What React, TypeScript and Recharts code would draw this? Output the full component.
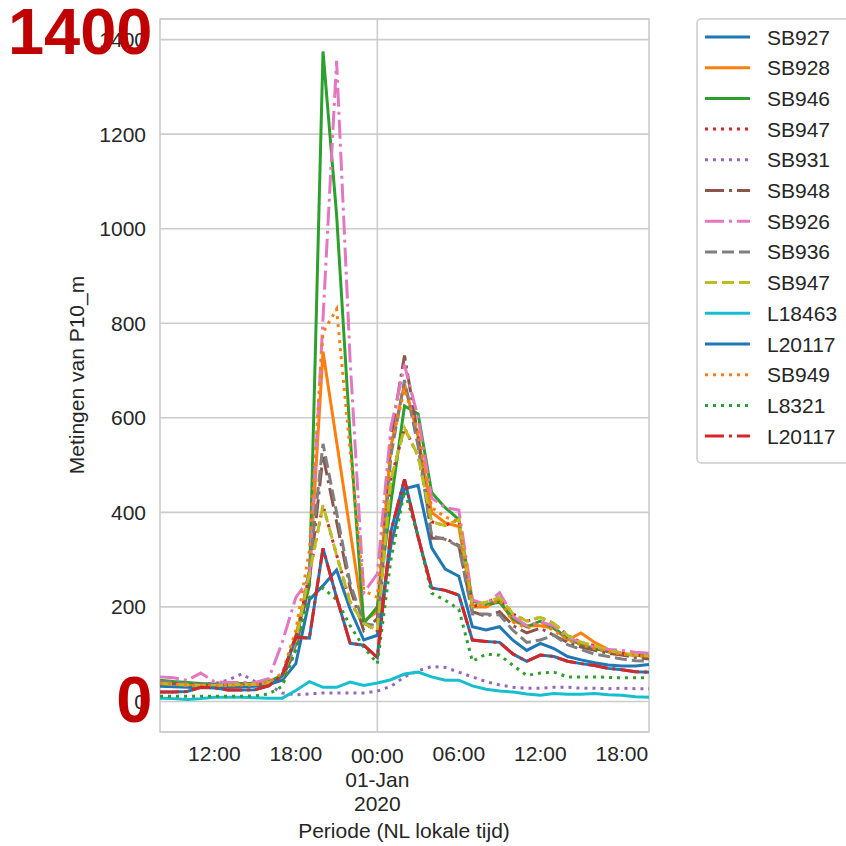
import React from 'react';
import {
  LineChart,
  Line,
  XAxis,
  YAxis,
  CartesianGrid,
  ReferenceLine,
  ReferenceArea,
} from 'recharts';

// Hourly index, 0 = 31-Dec-2019 08:00 … 36 = 01-Jan-2020 20:00
const hours = [
  0, 1, 2, 3, 4, 5, 6, 7, 8, 9, 10, 11, 12, 13, 14, 15, 16, 17, 18,
  19, 20, 21, 22, 23, 24, 25, 26, 27, 28, 29, 30, 31, 32, 33, 34, 35, 36,
];

const sb927 = [32, 31, 30, 29, 29, 30, 31, 32, 36, 45, 80, 215, 245, 278, 195, 130, 140, 330, 450, 457, 325, 280, 265, 158, 151, 158, 129, 108, 123, 112, 95, 88, 82, 77, 75, 75, 78];
const sb928 = [40, 38, 36, 35, 34, 35, 36, 36, 40, 55, 140, 260, 740, 550, 360, 170, 190, 540, 672, 560, 400, 378, 370, 200, 200, 215, 170, 160, 160, 155, 130, 145, 125, 110, 102, 98, 95];
const sb946 = [45, 42, 40, 38, 37, 37, 38, 38, 42, 55, 135, 245, 1375, 1030, 560, 165, 200, 420, 625, 608, 442, 410, 385, 212, 205, 210, 175, 158, 170, 155, 135, 120, 112, 105, 100, 98, 96];
const sb947 = [38, 36, 35, 34, 34, 35, 36, 36, 40, 52, 130, 270, 415, 310, 210, 165, 150, 470, 578, 520, 380, 372, 385, 200, 210, 220, 185, 170, 178, 165, 140, 125, 118, 108, 102, 98, 96];
const sb931 = [42, 40, 38, 38, 38, 45, 58, 42, 35, 18, 14, 16, 18, 18, 18, 18, 22, 32, 52, 65, 74, 72, 62, 52, 42, 35, 30, 28, 28, 30, 30, 28, 28, 27, 28, 27, 27];
const sb948 = [40, 38, 36, 34, 34, 34, 35, 35, 38, 50, 110, 255, 520, 380, 240, 150, 175, 560, 732, 560, 345, 345, 330, 190, 180, 190, 160, 145, 155, 140, 125, 115, 108, 102, 98, 93, 90];
const sb926 = [52, 50, 45, 60, 42, 40, 40, 40, 48, 125, 220, 260, 810, 1355, 720, 230, 270, 580, 712, 600, 430, 410, 405, 215, 205, 230, 180, 160, 168, 160, 135, 125, 115, 110, 108, 104, 102];
const sb936 = [42, 40, 38, 35, 35, 35, 36, 36, 40, 52, 120, 280, 545, 400, 250, 165, 160, 520, 680, 540, 350, 343, 328, 185, 185, 183, 150, 125, 130, 140, 120, 110, 100, 95, 90, 86, 85];
const l18463 = [7, 6, 4, 6, 9, 9, 9, 8, 7, 7, 23, 42, 30, 30, 41, 34, 39, 46, 58, 62, 52, 45, 45, 33, 26, 22, 20, 16, 13, 17, 15, 15, 17, 14, 13, 10, 9];
const l20117 = [20, 20, 21, 30, 29, 24, 24, 25, 33, 55, 136, 134, 324, 220, 123, 119, 93, 360, 470, 348, 240, 235, 225, 130, 127, 125, 100, 85, 98, 95, 85, 80, 76, 70, 67, 63, 62];
const sb949 = [38, 36, 34, 33, 33, 34, 35, 35, 40, 60, 150, 320, 780, 830, 530, 235, 220, 540, 660, 570, 410, 390, 380, 205, 200, 215, 168, 155, 165, 150, 130, 120, 112, 105, 100, 97, 95];
const l8321 = [11, 11, 11, 11, 11, 11, 11, 12, 16, 32, 110, 220, 240, 215, 160, 115, 80, 300, 445, 350, 229, 214, 195, 85, 100, 98, 76, 55, 60, 62, 52, 52, 52, 51, 50, 50, 50];

const xTicks = [4, 10, 16, 22, 28, 34];
const xTickLabels = ['12:00', '18:00', '00:00', '06:00', '12:00', '18:00'];
const midnightTick = 16;
const midnightSubLabels = ['01-Jan', '2020'];
const yTicks = [0, 200, 400, 600, 800, 1000, 1200, 1400];
const yDomain = [-64.6, 1443.6];

const DOTTED = '3 5';
const DASHED = '12 5';
const DASHDOT = '19 5 3 5';

type SeriesDef = { key: string; name: string; values: number[]; color: string; dash?: string };

const series: SeriesDef[] = [
  { key: 'sb927', name: 'SB927', values: sb927, color: '#1f77b4' },
  { key: 'sb928', name: 'SB928', values: sb928, color: '#ff7f0e' },
  { key: 'sb946', name: 'SB946', values: sb946, color: '#2ca02c' },
  { key: 'sb947a', name: 'SB947', values: sb947, color: '#d62728', dash: DOTTED },
  { key: 'sb931', name: 'SB931', values: sb931, color: '#9467bd', dash: DOTTED },
  { key: 'sb948', name: 'SB948', values: sb948, color: '#8c564b', dash: DASHDOT },
  { key: 'sb926', name: 'SB926', values: sb926, color: '#e377c2', dash: DASHDOT },
  { key: 'sb936', name: 'SB936', values: sb936, color: '#7f7f7f', dash: DASHED },
  { key: 'sb947b', name: 'SB947', values: sb947, color: '#bcbd22', dash: DASHED },
  { key: 'l18463', name: 'L18463', values: l18463, color: '#17becf' },
  { key: 'l20117a', name: 'L20117', values: l20117, color: '#1f77b4' },
  { key: 'sb949', name: 'SB949', values: sb949, color: '#ff7f0e', dash: DOTTED },
  { key: 'l8321', name: 'L8321', values: l8321, color: '#2ca02c', dash: DOTTED },
  { key: 'l20117b', name: 'L20117', values: l20117, color: '#d62728', dash: DASHDOT },
];

const data = hours.map((h, i) => {
  const row: Record<string, number> = { h };
  series.forEach((s) => {
    row[s.key] = s.values[i];
  });
  return row;
});

const FONT = '"Liberation Sans", Arial, Helvetica, sans-serif';
const TEXT = '#262626';
const GRID = '#cccccc';
const FS = 21;

const XTick = (props: any) => {
  const { x, y, payload } = props;
  const label = xTickLabels[xTicks.indexOf(payload.value)];
  if (payload.value === midnightTick) {
    return (
      <text x={x} y={y} textAnchor="middle" fill={TEXT} fontSize={FS} fontFamily={FONT}>
        <tspan x={x} dy={31}>{label}</tspan>
        {midnightSubLabels.map((s) => (
          <tspan key={s} x={x} dy={24}>{s}</tspan>
        ))}
      </text>
    );
  }
  return (
    <text x={x} y={y + 29} textAnchor="middle" fill={TEXT} fontSize={FS} fontFamily={FONT}>
      {label}
    </text>
  );
};

const Overlay = () => {
  const legendX = 697;
  const legendY = 19;
  const rowH = 30.7;
  return (
    <svg
      width={846}
      height={846}
      style={{ position: 'absolute', left: 0, top: 0, pointerEvents: 'none' }}
    >
      {/* axis titles */}
      <text
        x={84}
        y={375}
        transform="rotate(-90 84 375)"
        textAnchor="middle"
        fill={TEXT}
        fontSize={FS}
        fontFamily={FONT}
      >
        Metingen van P10_m
      </text>
      <text x={404} y={838} textAnchor="middle" fill={TEXT} fontSize={FS} fontFamily={FONT}>
        Periode (NL lokale tijd)
      </text>

      {/* legend */}
      <rect
        x={legendX}
        y={legendY}
        width={180}
        height={444}
        rx={4}
        fill="#ffffff"
        fillOpacity={0.85}
        stroke={GRID}
        strokeWidth={1.5}
      />
      {series.map((s, i) => {
        const cy = legendY + 18 + i * rowH;
        return (
          <g key={s.key}>
            <line
              x1={705}
              x2={750}
              y1={cy}
              y2={cy}
              stroke={s.color}
              strokeWidth={3}
              strokeDasharray={s.dash}
            />
            <text x={767} y={cy + 7.5} fill={TEXT} fontSize={FS} fontFamily={FONT}>
              {s.name}
            </text>
          </g>
        );
      })}

      {/* axis extreme annotations */}
      <text
        x={152.5}
        y={53.5}
        textAnchor="end"
        fill="#c00000"
        fontSize={65}
        fontWeight="bold"
        fontFamily={FONT}
      >
        1400
      </text>
      <text
        x={152.5}
        y={722}
        textAnchor="end"
        fill="#c00000"
        fontSize={65}
        fontWeight="bold"
        fontFamily={FONT}
      >
        0
      </text>
    </svg>
  );
};

export default function App() {
  return (
    <div
      style={{
        position: 'fixed',
        left: 0,
        top: 0,
        width: 846,
        height: 846,
        overflow: 'hidden',
        background: '#ffffff',
      }}
    >
      <LineChart
        width={846}
        height={846}
        data={data}
        margin={{ top: 19, right: 197, bottom: 74, left: 100 }}
      >
        <CartesianGrid vertical={false} stroke={GRID} strokeWidth={1.6} />
        <ReferenceLine x={midnightTick} stroke={GRID} strokeWidth={1.6} />
        <XAxis
          dataKey="h"
          type="number"
          domain={[hours[0], hours[hours.length - 1]]}
          ticks={xTicks}
          interval={0}
          tickLine={false}
          axisLine={false}
          tickSize={0}
          tickMargin={0}
          height={40}
          tick={<XTick />}
        />
        <YAxis
          type="number"
          domain={yDomain}
          ticks={yTicks}
          interval={0}
          tickLine={false}
          axisLine={false}
          tickSize={0}
          tickMargin={14}
          width={60}
          tick={{ fill: TEXT, fontSize: FS, fontFamily: FONT }}
        />
        {series.map((s) => (
          <Line
            key={s.key}
            dataKey={s.key}
            name={s.name}
            type="linear"
            stroke={s.color}
            strokeWidth={3}
            strokeDasharray={s.dash}
            dot={false}
            activeDot={false}
            isAnimationActive={false}
          />
        ))}
        <ReferenceArea
          x1={hours[0]}
          x2={hours[hours.length - 1]}
          y1={yDomain[0]}
          y2={yDomain[1]}
          fill="none"
          stroke={GRID}
          strokeWidth={1.6}
        />
      </LineChart>
      <Overlay />
    </div>
  );
}
